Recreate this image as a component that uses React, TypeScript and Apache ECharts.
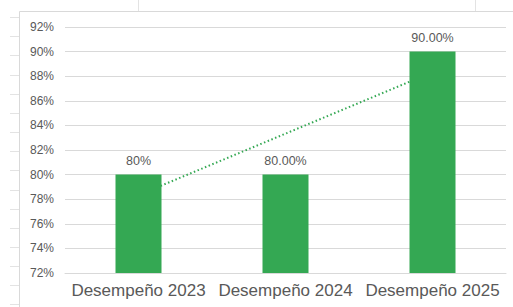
import React, { useEffect, useRef } from "react";
import * as echarts from "echarts";

const categories = ["Desempeño 2023", "Desempeño 2024", "Desempeño 2025"];
const values = [80, 80, 90];
const labels = ["80%", "80.00%", "90.00%"];
const trendValues = [78.33, 83.33, 88.33];
const sheetRowLines = [17, 36, 55, 75, 94, 113, 132, 151, 170, 190, 209, 228, 247, 266, 285, 304];

export default function App() {
  const ref = useRef<HTMLDivElement>(null);
  useEffect(() => {
    if (!ref.current) return;
    const chart = echarts.init(ref.current, undefined, { renderer: "svg" });
    const gridColor = "#d9d9d9";
    const textColor = "#595959";
    const green = "#34a853";
    const graphics: any[] = [];
    sheetRowLines.forEach((y) => {
      graphics.push({
        type: "line",
        shape: { x1: 10, y1: y + 0.5, x2: 19, y2: y + 0.5 },
        style: { stroke: "#e3e3e3", lineWidth: 1 },
        silent: true,
      });
    });
    [138, 475].forEach((x) => {
      graphics.push({
        type: "line",
        shape: { x1: x + 0.5, y1: 0, x2: x + 0.5, y2: 11 },
        style: { stroke: "#e3e3e3", lineWidth: 1 },
        silent: true,
      });
    });
    graphics.push({
      type: "polyline",
      shape: { points: [[19.5, 307], [19.5, 11.5], [513, 11.5]] },
      style: { stroke: "#d9d9d9", lineWidth: 1, fill: "none" },
      silent: true,
    });
    chart.setOption({
      animation: false,
      backgroundColor: "#ffffff",
      textStyle: { fontFamily: "Liberation Sans, Arial, sans-serif" },
      graphic: graphics,
      grid: { left: 65, right: 7, top: 27, bottom: 34, containLabel: false },
      xAxis: {
        type: "category",
        data: categories,
        axisTick: { show: false },
        axisLine: { lineStyle: { color: gridColor, width: 1 } },
        axisLabel: {
          color: textColor,
          fontSize: 17,
          margin: 9,
          interval: 0,
          hideOverlap: false,
          fontFamily: "Liberation Sans, Arial, sans-serif",
        },
      },
      yAxis: {
        type: "value",
        min: 72,
        max: 92,
        interval: 2,
        axisLine: { show: false },
        axisTick: { show: false },
        splitLine: { lineStyle: { color: gridColor, width: 1 } },
        axisLabel: {
          color: textColor,
          fontSize: 12,
          margin: 11,
          formatter: (v: number) => `${v}%`,
          fontFamily: "Liberation Sans, Arial, sans-serif",
        },
      },
      series: [
        {
          type: "line",
          data: trendValues,
          z: 1,
          symbol: "none",
          silent: true,
          lineStyle: { color: green, width: 2, type: [1.5, 2.5], cap: "butt" },
        },
        {
          type: "bar",
          data: values,
          z: 3,
          barWidth: 46,
          itemStyle: { color: green },
          label: {
            show: true,
            position: "top",
            distance: 7,
            color: textColor,
            fontSize: 12.5,
            fontFamily: "Liberation Sans, Arial, sans-serif",
            formatter: (p: any) => labels[p.dataIndex],
          },
        },
      ],
    });
    return () => chart.dispose();
  }, []);
  return (
    <div
      ref={ref}
      style={{ position: "fixed", left: 0, top: 0, width: 513, height: 307, background: "#fff" }}
    />
  );
}
